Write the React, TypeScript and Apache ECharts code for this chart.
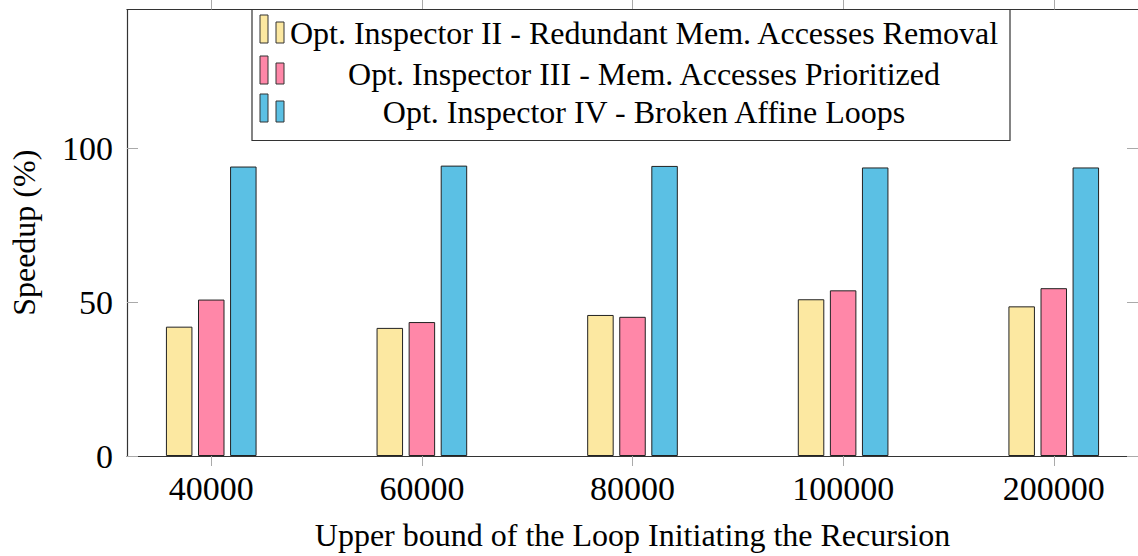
import React, { useEffect, useRef } from "react";
import * as echarts from "echarts";

const categories = ["40000", "60000", "80000", "100000", "200000"];
const seriesNames = [
  "Opt. Inspector II - Redundant Mem. Accesses Removal",
  "Opt. Inspector III - Mem. Accesses Prioritized",
  "Opt. Inspector IV - Broken Affine Loops",
];
const inspectorII = [42.0, 41.6, 45.8, 50.9, 48.6];
const inspectorIII = [50.8, 43.5, 45.2, 53.8, 54.5];
const inspectorIV = [94.0, 94.3, 94.2, 93.7, 93.7];
const colors = ["#FCE8A1", "#FF87A8", "#5BC0E4"];
const yTicks = [0, 50, 100];

const FONT = "Liberation Serif";

export default function App() {
  const ref = useRef<HTMLDivElement>(null);
  useEffect(() => {
    if (!ref.current) return;
    const chart = echarts.init(ref.current, undefined, { renderer: "svg" });
    const allSeries = [inspectorII, inspectorIII, inspectorIV];
    const idx = categories.map((_, i) => i);
    const iconBottoms = [43, 84, 122];
    const textCenters = [33, 73.8, 112];
    const legendGraphics: any[] = [
      {
        type: "rect",
        shape: { x: 252, y: 9.5, width: 758, height: 131 },
        style: { fill: "#fff", stroke: "#333", lineWidth: 1.2 },
        z: 100,
      },
    ];
    seriesNames.forEach((name, i) => {
      const b = iconBottoms[i];
      legendGraphics.push({
        type: "rect",
        shape: { x: 260, y: b - 28, width: 8, height: 28 },
        style: { fill: colors[i], stroke: "#333", lineWidth: 1 },
        z: 101,
      });
      legendGraphics.push({
        type: "rect",
        shape: { x: 276, y: b - 21, width: 8, height: 21 },
        style: { fill: colors[i], stroke: "#333", lineWidth: 1 },
        z: 101,
      });
      legendGraphics.push({
        type: "text",
        x: 644,
        y: textCenters[i],
        style: {
          text: name,
          fontFamily: FONT,
          fontSize: 32,
          fill: "#000",
          align: "center",
          verticalAlign: "middle",
        },
        z: 101,
      });
    });

    chart.setOption({
      animation: false,
      grid: { left: 124, right: 0, top: 9.5, bottom: 99, containLabel: false },
      xAxis: [
        {
          type: "value",
          position: "bottom",
          min: -0.4,
          max: 4.4,
          axisLine: { show: true, onZero: false, lineStyle: { color: "#333", width: 1.2 } },
          axisTick: {
            show: true,
            customValues: idx,
            inside: false,
            length: 10,
            lineStyle: { color: "#aaa", width: 1 },
          },
          axisLabel: {
            show: true,
            customValues: idx,
            formatter: (v: number) => categories[Math.round(v)] ?? "",
            fontFamily: FONT,
            fontSize: 34,
            color: "#000",
            margin: 15,
          },
          splitLine: { show: false },
          name: "Upper bound of the Loop Initiating the Recursion",
          nameLocation: "middle",
          nameGap: 63,
          nameTextStyle: { fontFamily: FONT, fontSize: 32, color: "#000" },
        },
        {
          type: "value",
          position: "top",
          min: -0.4,
          max: 4.4,
          axisLine: { show: true, onZero: false, lineStyle: { color: "#333", width: 1.2 } },
          axisTick: {
            show: true,
            customValues: idx,
            inside: false,
            length: 10,
            lineStyle: { color: "#aaa", width: 1 },
          },
          axisLabel: { show: false },
          splitLine: { show: false },
        },
      ],
      yAxis: [
        {
          type: "value",
          position: "left",
          min: 0,
          max: 145,
          interval: 50,
          axisLine: { show: true, onZero: false, lineStyle: { color: "#333", width: 1.2 } },
          axisTick: {
            show: true,
            customValues: yTicks,
            inside: true,
            length: 11,
            lineStyle: { color: "#aaa", width: 1 },
          },
          axisLabel: {
            customValues: yTicks,
            fontFamily: FONT,
            fontSize: 34,
            color: "#000",
            margin: 14,
          },
          splitLine: { show: false },
          name: "Speedup (%)",
          nameLocation: "middle",
          nameRotate: 90,
          nameGap: 87,
          nameTextStyle: { fontFamily: FONT, fontSize: 32, color: "#000" },
        },
        {
          type: "value",
          position: "right",
          min: 0,
          max: 145,
          interval: 50,
          axisLine: { show: false, onZero: false },
          axisTick: {
            show: true,
            customValues: yTicks,
            inside: true,
            length: 11,
            lineStyle: { color: "#aaa", width: 1 },
          },
          axisLabel: { show: false },
          splitLine: { show: false },
        },
      ],
      series: allSeries.map((vals, s) => ({
        type: "bar",
        name: seriesNames[s],
        xAxisIndex: 0,
        yAxisIndex: 0,
        data: vals.map((v, i) => [i, v]),
        barWidth: 26.5,
        barGap: "21%",
        itemStyle: { color: colors[s], borderColor: "#222", borderWidth: 1 },
      })),
      graphic: legendGraphics,
    });
    return () => chart.dispose();
  }, []);
  return (
    <div
      ref={ref}
      style={{ position: "absolute", left: 0, top: 0, width: 1138, height: 556 }}
    />
  );
}
